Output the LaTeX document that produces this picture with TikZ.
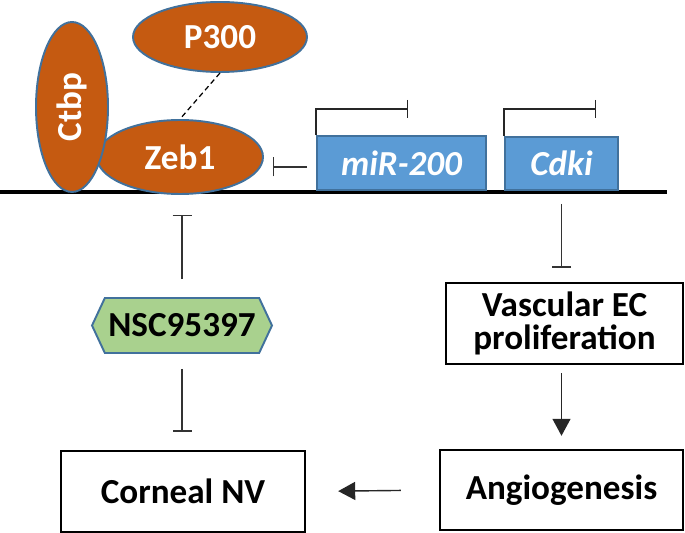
\documentclass[tikz,border=0pt]{standalone}
\usepackage{fontspec}
\setmainfont{Carlito}
\usepackage{tikz}
\usetikzlibrary{arrows.meta, positioning, shapes.geometric, shapes.symbols}
\definecolor{protein}{HTML}{C55A11}
\definecolor{edge}{HTML}{41719C}
\definecolor{gene}{HTML}{5B9BD5}
\definecolor{drug}{HTML}{A9D18E}

\begin{document}
\begin{tikzpicture}[x=0.02cm, y=-0.02cm,
    txt/.style={font=\fontsize{20}{19}\selectfont\bfseries},
    prot/.style={draw=edge, line width=1.1pt, fill=protein, ellipse, inner sep=0pt,
      text=white, txt},
    genebox/.style={draw=edge, line width=1.1pt, fill=gene, rectangle, inner sep=0pt,
      text=white, font=\fontsize{20}{19}\selectfont\bfseries\itshape},
    procbox/.style={draw=black, line width=1.4pt, rectangle, inner sep=0pt, align=center, txt},
    inhib/.style={draw=black!80, line width=0.8pt, -{Bar[width=0.38cm]}},
    prom/.style={draw=black!85, line width=0.8pt, -{Bar[width=0.36cm]}},
    act/.style={draw=black!85, line width=0.8pt, -{Triangle[width=0.36cm, length=0.34cm]}}]
    \useasboundingbox (0,0) rectangle (685,533);

    % DNA
    \draw[line width=2.3pt] (0,192) -- (667,192);

    % proteins
    \node[prot, minimum width=3.32cm, minimum height=1.48cm] (Zeb) at (180,157) {Zeb1};
    \node[prot, minimum width=1.44cm, minimum height=3.4cm] (Ctbp) at (72,107)
      {\rotatebox{90}{Ctbp}};
    \node[prot, minimum width=3.48cm, minimum height=1.4cm] (P300) at (220,37) {P300};
    \draw[dashed, line width=0.7pt, dash pattern=on 3pt off 2pt] (P300.south) -- (Zeb.north);

    % genes
    \node[genebox, minimum width=3.38cm, minimum height=1.08cm] (mir) at (401.5,163) {miR-200};
    \node[genebox, minimum width=2.26cm, minimum height=1.06cm] (Cdki) at (561.5,163.5) {Cdki};
    \coordinate (mirbar) at (408,109);
    \coordinate (cdkibar) at (596,109);
    \draw[prom] (mir.north west) |- (mirbar);
    \draw[prom] (Cdki.north west) |- (cdkibar);
    \coordinate (zebbar) at (273,167);
    \draw[inhib, shorten <=0.18cm] (mir.west |- zebbar) -- (zebbar);

    % processes
    \node[procbox, minimum width=4.74cm, minimum height=1.62cm] (Vasc) at (564.5,323.5)
      {Vascular EC\\proliferation};
    \node[procbox, minimum width=4.86cm, minimum height=1.6cm] (Angio) at (561.5,490)
      {Angiogenesis};
    \node[procbox, minimum width=4.88cm, minimum height=1.62cm] (NV) at (183,491.5)
      {Corneal NV};
    \node[draw=edge, line width=1.1pt, fill=drug, signal, signal to=west and east,
      signal pointer angle=130, minimum width=3.6cm, minimum height=1.1cm, inner sep=0pt,
      txt] (NSC) at (182,325.5) {NSC95397};

    \draw[inhib, shorten <=0.26cm, shorten >=0.28cm] (Cdki.south) -- (Cdki.south |- Vasc.north);
    \draw[act, shorten <=0.16cm, shorten >=0.26cm] (Cdki.south |- Vasc.south) -- (Cdki.south |- Angio.north);
    \draw[act, shorten <=0.76cm, shorten >=0.64cm] (Angio.west) -- (NV.east);
    \draw[inhib, shorten <=0.36cm, shorten >=0.4cm] (NSC.north) -- (NSC.north |- Zeb.south);
    \draw[inhib, shorten <=0.3cm, shorten >=0.36cm] (NSC.south) -- (NSC.south |- NV.north);
  \end{tikzpicture}
\end{document}
